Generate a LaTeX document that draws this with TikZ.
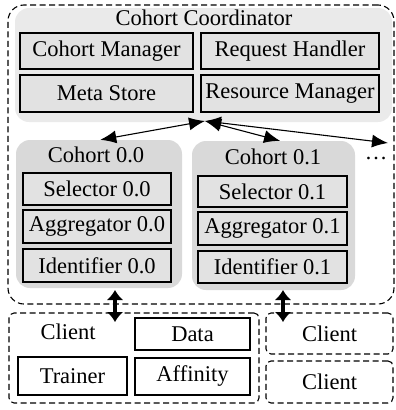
\documentclass[tikz,border=0pt]{standalone}
\usepackage{fontspec}
\setmainfont{Liberation Serif}
\usetikzlibrary{arrows.meta,positioning,calc}
\definecolor{coordfill}{RGB}{234,234,234}
\definecolor{cohortfill}{RGB}{217,217,217}
\definecolor{partfill}{RGB}{226,226,226}
\newcommand{\partbox}[6]{\node[part,minimum width=#4pt,minimum height=#5pt] (#1) at (#2,#3) {#6};}
\newcommand{\groupbg}[6]{\node[group,fill=#6,minimum width=#4pt,minimum height=#5pt] (#1) at (#2,#3) {};}

\begin{document}
\begin{tikzpicture}[x=1pt,y=-1pt,
  lbl/.style={font=\fontsize{22.5}{26}\selectfont,inner sep=0pt},
  part/.style={lbl,draw=black,line width=1.1pt,fill=partfill},
  group/.style={rounded corners=14pt,inner sep=0pt},
  dashbox/.style={draw=black,dash pattern=on 6pt off 3.5pt,line width=1.1pt,rounded corners=#1,inner sep=0pt},
  link/.style={{Latex[length=16pt,width=13pt]}-{Latex[length=16pt,width=13pt]},line width=1.1pt},
  fat/.style={{Latex[length=10pt,width=17pt]}-{Latex[length=10pt,width=17pt]},line width=4.5pt}]
\useasboundingbox (0,0) rectangle (396,410);
% coordinator
\node[dashbox=16pt,minimum width=386pt,minimum height=299pt] (zone) at (201,154.5) {};
\groupbg{coord}{203.5}{65}{377}{114}{coordfill}
\node[lbl] (coordtitle) at (204,18) {Cohort Coordinator};
\partbox{cman}{106.5}{51}{173}{36}{Cohort Manager}
\partbox{rhand}{290}{51}{178}{36}{Request Handler}
\partbox{meta}{106.5}{93.5}{173}{37}{Meta Store}
\partbox{rman}{290}{93.5}{178}{37}{Resource Manager}
% cohorts
\groupbg{coh0}{99}{214}{166}{148}{cohortfill}
\node[lbl] (coh0title) at (96,155) {Cohort 0.0};
\partbox{sel0}{97}{189}{148}{32}{Selector 0.0}
\partbox{agg0}{97}{226.5}{148}{33}{Aggregator 0.0}
\partbox{idf0}{97}{265.5}{148}{33}{Identifier 0.0}
\groupbg{coh1}{273.5}{215.5}{163}{149}{cohortfill}
\node[lbl] (coh1title) at (273,157) {Cohort 0.1};
\partbox{sel1}{272.5}{191.5}{149}{31}{Selector 0.1}
\partbox{agg1}{272.5}{228.5}{149}{33}{Aggregator 0.1}
\partbox{idf1}{272.5}{267}{149}{32}{Identifier 0.1}
\node[lbl] (dots) at (376,158) {\dots};
\coordinate (hub) at (205,121);
\coordinate (more) at (388,143);
\draw[link] (hub) -- (coh0.89);
\draw[link] (hub) -- (coh1.85);
\draw[link] (hub) -- (more);
% clients
\node[dashbox=5pt,minimum width=250pt,minimum height=90pt] (clientA) at (134,358) {};
\node[lbl] (clientAtitle) at (68,332) {Client};
\node[part,fill=white,minimum width=115pt,minimum height=32pt] (data) at (192.5,334) {Data};
\node[part,fill=white,minimum width=109pt,minimum height=38pt] (trainer) at (72.5,376) {Trainer};
\node[part,fill=white,minimum width=115pt,minimum height=37pt] (affinity) at (192.5,376.5) {Affinity};
\node[dashbox=5pt,lbl,minimum width=127pt,minimum height=41pt] (clientB) at (329.5,333.5) {Client};
\node[dashbox=5pt,lbl,minimum width=127pt,minimum height=42pt] (clientC) at (329.5,382) {Client};
\coordinate (up0) at (115,290);
\coordinate (dn0) at (115,322);
\coordinate (up1) at (283,290);
\coordinate (dn1) at (283,322);
\draw[fat] (up0) -- (dn0);
\draw[fat] (up1) -- (dn1);
\end{tikzpicture}
\end{document}
